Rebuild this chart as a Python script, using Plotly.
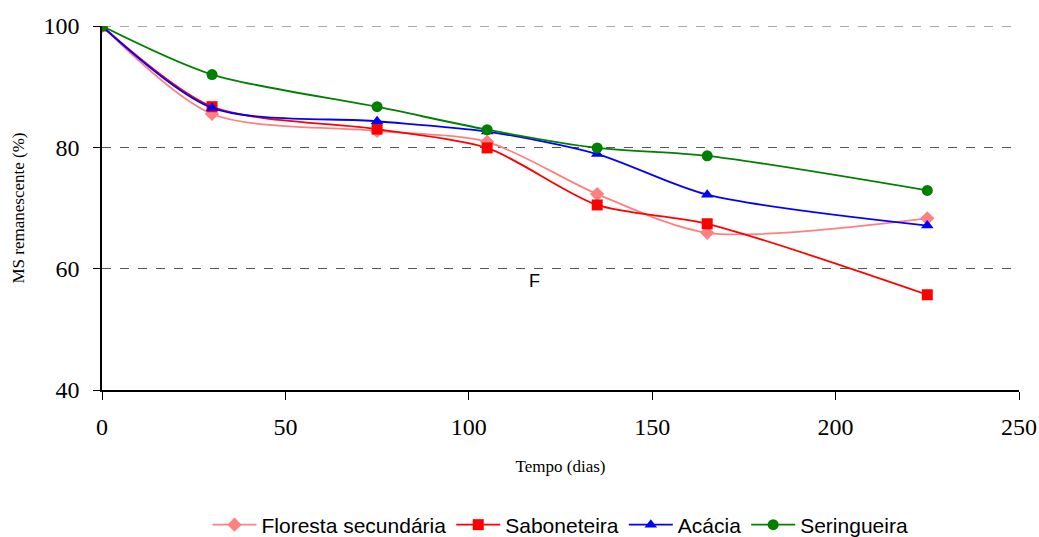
import plotly.graph_objects as go

dias = [0, 30, 75, 105, 135, 165, 225]
floresta = [100, 85.5, 82.7, 80.9, 72.3, 65.9, 68.3]
saboneteira = [100, 86.7, 83.0, 79.9, 70.5, 67.4, 55.7]
acacia = [100, 86.5, 84.3, 82.6, 78.9, 72.2, 67.1]
seringueira = [100, 92.0, 86.7, 82.9, 79.9, 78.6, 72.9]

series = [
    ("Floresta secundária", floresta, "#FF8080", "diamond"),
    ("Saboneteira", saboneteira, "#FF0000", "square"),
    ("Acácia", acacia, "#0000FF", "triangle-up"),
    ("Seringueira", seringueira, "#008000", "circle"),
]

fig = go.Figure()
for name, vals, color, sym in series:
    fig.add_trace(go.Scatter(
        x=dias, y=vals, name=name, mode="lines+markers",
        line=dict(color=color, width=1.8, shape="spline", smoothing=0.8),
        marker=dict(color=color, symbol=sym, size=11),
    ))

serif = "Liberation Serif, Times New Roman, serif"
sans = "Liberation Sans, Arial, sans-serif"

W, H = 1039, 537
fig.update_layout(
    width=W, height=H,
    margin=dict(l=102, r=20, t=26, b=147, autoexpand=False),
    plot_bgcolor="white", paper_bgcolor="white",
    showlegend=True,
    legend=dict(orientation="h", x=0.5, xanchor="center",
                yref="container", y=1 - 525 / H, yanchor="middle",
                font=dict(family=sans, size=21, color="black"), itemwidth=44,
                tracegroupgap=0),
    xaxis=dict(range=[0, 250], dtick=50, tick0=0, showgrid=False, zeroline=False,
               automargin=False,
               showline=True, linecolor="black", linewidth=1.5,
               ticks="outside", ticklen=8, tickcolor="black",
               ticklabelstandoff=6,
               tickfont=dict(family=serif, size=24, color="black"),
               title=dict(text="Tempo (dias)", font=dict(family=serif, size=17, color="black"),
                          standoff=22)),
    yaxis=dict(range=[40, 100], dtick=20, tick0=40, showgrid=True, gridcolor="#555555",
               automargin=False,
               griddash="dash", gridwidth=1, zeroline=False,
               showline=True, linecolor="black", linewidth=1.5,
               ticks="outside", ticklen=7, tickcolor="black",
               ticklabelstandoff=9,
               tickfont=dict(family=serif, size=24, color="black"),
               title=dict(text="MS remanescente (%)", font=dict(family=serif, size=17, color="black"),
                          standoff=15)),
    shapes=[dict(type="line", xref="paper", yref="y", x0=0, x1=1, y0=100, y1=100,
                 line=dict(color="#555555", width=1, dash="dash"), layer="below")],
    annotations=[dict(x=118, y=57.9, xref="x", yref="y", text="F", showarrow=False,
                      font=dict(family=sans, size=18, color="black"))],
)

fig.write_html("out.html", config={"displayModeBar": False},
               post_script="document.body.style.margin='0';document.body.style.overflow='hidden';")
